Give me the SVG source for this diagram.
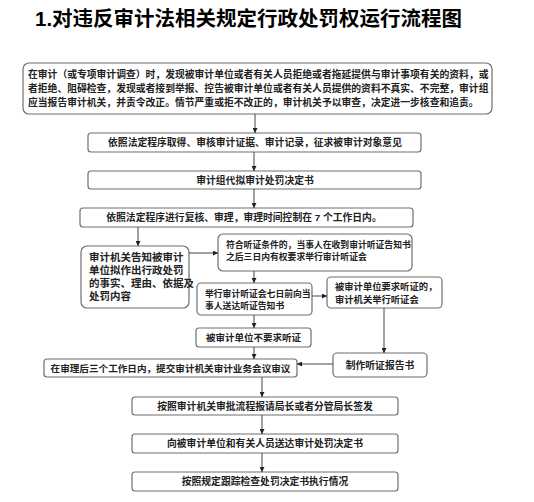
<svg xmlns="http://www.w3.org/2000/svg" width="534" height="502" viewBox="0 0 534 502">
<defs>
<style>
.box{fill:#fff;stroke:#6e6e6e;stroke-width:1.2}
.t{font-family:"Liberation Sans","Noto Sans CJK SC",sans-serif;font-size:9.8px;font-weight:bold;fill:#222}
.c{text-anchor:middle}
.ln{stroke:#444;stroke-width:1;fill:none;marker-end:url(#ah)}
</style>
<marker id="ah" viewBox="0 0 6 6" refX="6" refY="3" markerWidth="5" markerHeight="5" orient="auto" markerUnits="userSpaceOnUse">
<path d="M0,0 L6,3 L0,6 z" fill="#222"/>
</marker>
</defs>
<rect width="534" height="502" fill="#fff"/>
<text x="35" y="26" font-family="'Liberation Sans','Noto Sans CJK SC',sans-serif" font-size="20.5" font-weight="bold" fill="#000">1.对违反审计法相关规定行政处罚权运行流程图</text>

<g id="n1">
<rect class="box" x="23" y="63" width="469" height="51" rx="6"/>
<text class="t" x="28" y="78">在审计（或专项审计调查）时，发现被审计单位或者有关人员拒绝或者拖延提供与审计事项有关的资料，或</text>
<text class="t" x="28" y="92">者拒绝、阻碍检查，发现或者接到举报、控告被审计单位或者有关人员提供的资料不真实、不完整，审计组</text>
<text class="t" x="28" y="106">应当报告审计机关，并责令改正。情节严重或拒不改正的，审计机关予以审查，决定进一步核查和追责。</text>
</g>
<g id="n2">
<rect class="box" x="88" y="133" width="333" height="19" rx="3"/>
<text class="t c" x="255" y="146">依照法定程序取得、审核审计证据、审计记录，征求被审计对象意见</text>
</g>
<g id="n3">
<rect class="box" x="88" y="171" width="333" height="18" rx="3"/>
<text class="t c" x="255" y="184">审计组代拟审计处罚决定书</text>
</g>
<g id="n4">
<rect class="box" x="80" y="208" width="333" height="19" rx="3"/>
<text class="t c" x="244" y="221">依照法定程序进行复核、审理，审理时间控制在 7 个工作日内。</text>
</g>
<g id="n5">
<rect class="box" x="81" y="246" width="108" height="62" rx="6"/>
<text class="t" x="89" y="261" style="font-size:10.5px">审计机关告知被审计</text>
<text class="t" x="89" y="274" style="font-size:10.5px">单位拟作出行政处罚</text>
<text class="t" x="89" y="287" style="font-size:10.5px">的事实、理由、依据及</text>
<text class="t" x="89" y="300" style="font-size:10.5px">处罚内容</text>
</g>
<g id="n6">
<rect class="box" x="218" y="234" width="194" height="37" rx="5"/>
<text class="t" x="226" y="248" style="font-size:8.8px">符合听证条件的，当事人在收到审计听证告知书</text>
<text class="t" x="226" y="260" style="font-size:8.8px">之后三日内有权要求举行审计听证会</text>
</g>
<g id="n7">
<rect class="box" x="197" y="283" width="115" height="32" rx="4"/>
<text class="t" x="205" y="297" style="font-size:8.8px">举行审计听证会七日前向当</text>
<text class="t" x="205" y="309" style="font-size:8.8px">事人送达听证告知书</text>
</g>
<g id="n8">
<rect class="box" x="327" y="277" width="115" height="31" rx="4"/>
<text class="t" x="335" y="290" style="font-size:9.3px">被审计单位要求听证的，</text>
<text class="t" x="335" y="303" style="font-size:9.3px">审计机关举行听证会</text>
</g>
<g id="n9">
<rect class="box" x="196" y="328" width="115" height="19" rx="3"/>
<text class="t c" x="253.5" y="341" style="font-size:9.5px">被审计单位不要求听证</text>
</g>
<g id="n10">
<rect class="box" x="333" y="353" width="94" height="24" rx="4"/>
<text class="t c" x="380" y="368.5">制作听证报告书</text>
</g>
<g id="n11">
<rect class="box" x="44" y="359" width="253" height="18" rx="3"/>
<text class="t c" x="170.5" y="371.5" style="font-size:9.6px">在审理后三个工作日内，提交审计机关审计业务会议审议</text>
</g>
<g id="n12">
<rect class="box" x="132" y="397" width="266" height="18" rx="3"/>
<text class="t c" x="265" y="409.5">按照审计机关审批流程报请局长或者分管局长签发</text>
</g>
<g id="n13">
<rect class="box" x="132" y="434" width="266" height="19" rx="3"/>
<text class="t c" x="265" y="447">向被审计单位和有关人员送达审计处罚决定书</text>
</g>
<g id="n14">
<rect class="box" x="132" y="472" width="266" height="19" rx="3"/>
<text class="t c" x="265" y="485">按照规定跟踪检查处罚决定书执行情况</text>
</g>

<g id="connectors">
<line class="ln" x1="255" y1="114" x2="255" y2="133"/>
<line class="ln" x1="254" y1="152" x2="254" y2="171"/>
<line class="ln" x1="254" y1="189" x2="254" y2="208"/>
<line class="ln" x1="138" y1="227" x2="138" y2="246"/>
<line class="ln" x1="189" y1="253" x2="218" y2="253"/>
<line class="ln" x1="254" y1="271" x2="254" y2="283"/>
<line class="ln" x1="312" y1="296" x2="327" y2="296"/>
<line class="ln" x1="254" y1="315" x2="254" y2="328"/>
<line class="ln" x1="384" y1="308" x2="384" y2="353"/>
<line class="ln" x1="254" y1="347" x2="254" y2="359"/>
<line class="ln" x1="333" y1="364" x2="297" y2="364"/>
<line class="ln" x1="262" y1="377" x2="262" y2="397"/>
<line class="ln" x1="262" y1="415" x2="262" y2="434"/>
<line class="ln" x1="262" y1="453" x2="262" y2="472"/>
</g>
</svg>
